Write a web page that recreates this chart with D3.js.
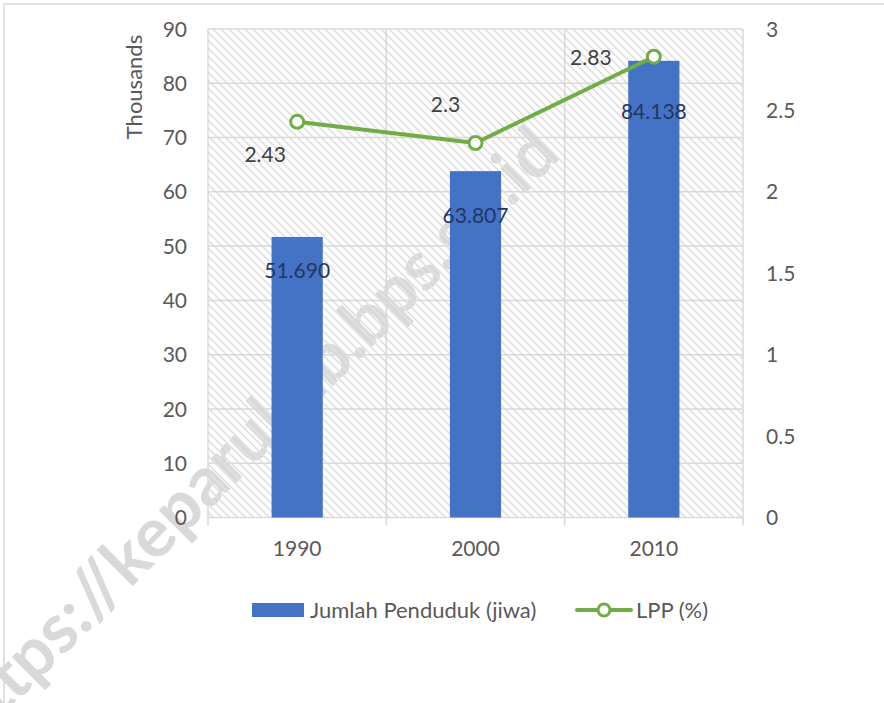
<!DOCTYPE html>
<html>
<head>
<meta charset="utf-8">
<script src="https://cdn.jsdelivr.net/npm/d3@7"></script>
<style>
  html, body { margin: 0; padding: 0; background: #fff; }
  svg { display: block; }
  text { font-family: Lato, "Open Sans", sans-serif; }
</style>
</head>
<body>
<svg id="chart" width="884" height="703"></svg>
<script>
// ---- data ----
const years = ["1990", "2000", "2010"];
const population = [51.690, 63.807, 84.138];          // thousands
const populationLabels = ["51.690", "63.807", "84.138"];
const lpp = [2.43, 2.3, 2.83];                          // percent
const lppLabels = ["2.43", "2.3", "2.83"];
const leftTicks = [0, 10, 20, 30, 40, 50, 60, 70, 80, 90];
const rightTicks = [0, 0.5, 1, 1.5, 2, 2.5, 3];
const seriesNames = ["Jumlah Penduduk (jiwa)", "LPP (%)"];

// ---- layout (not data) ----
const barLabelDy = [34, 44, 51];
const lineLabelOffset = [[-32, 33], [-30, -39], [-63, 1]];

const svg = d3.select("#chart");
const plot = { left: 208, right: 743, top: 29, bottom: 517.5 };
const textColor = "#595959";
const gridColor = "#d9d9d9";
const barColor = "#4472c4";
const lineColor = "#70ad47";

// outer border
svg.append("rect").attr("x", 4).attr("y", 4).attr("width", 900).attr("height", 800)
  .attr("fill", "#fff").attr("stroke", gridColor).attr("stroke-width", 1.5);

// watermark (behind chart)
svg.append("text")
  .attr("transform", "translate(-40,734) rotate(-45)")
  .attr("text-anchor", "start")
  .attr("dominant-baseline", "middle")
  .attr("font-family", "'Liberation Sans', Arial, sans-serif")
  .attr("font-weight", "bold")
  .attr("font-size", 69)
  .attr("fill", "#d9d9d9")
  .text("https://keparukab.bps.go.id");

// hatch pattern
const defs = svg.append("defs");
const pat = defs.append("pattern").attr("id", "hatch")
  .attr("patternUnits", "userSpaceOnUse").attr("width", 8).attr("height", 8);
pat.append("path").attr("d", "M-2,-2 L10,10 M-2,6 L2,10 M6,-2 L10,2")
  .attr("stroke", "#e1e1e1").attr("stroke-width", 1.8).attr("fill", "none");

const x = d3.scaleBand().domain(years).range([plot.left, plot.right]).padding(0);
const yL = d3.scaleLinear().domain([0, 90]).range([plot.bottom, plot.top]);
const yR = d3.scaleLinear().domain([0, 3]).range([plot.bottom, plot.top]);

svg.append("rect").attr("x", plot.left).attr("y", plot.top)
  .attr("width", plot.right - plot.left).attr("height", plot.bottom - plot.top)
  .attr("fill", "url(#hatch)");

// horizontal gridlines
svg.append("g").selectAll("line").data(leftTicks).join("line")
  .attr("x1", plot.left).attr("x2", plot.right)
  .attr("y1", d => yL(d)).attr("y2", d => yL(d))
  .attr("stroke", gridColor).attr("stroke-width", 1.5);

// vertical gridlines at category boundaries
const bounds = years.map(d => x(d)).concat([x(years[years.length - 1]) + x.bandwidth()]);
svg.append("g").selectAll("line").data(bounds).join("line")
  .attr("x1", d => d).attr("x2", d => d)
  .attr("y1", plot.top).attr("y2", plot.bottom + 8)
  .attr("stroke", gridColor).attr("stroke-width", 1.5);

// left axis labels
svg.append("g").selectAll("text").data(leftTicks).join("text")
  .attr("x", 187).attr("y", d => yL(d)).attr("dy", "0.36em")
  .attr("text-anchor", "end").attr("font-size", 21).attr("fill", textColor)
  .text(d => d);

// right axis labels
svg.append("g").selectAll("text").data(rightTicks).join("text")
  .attr("x", 766).attr("y", d => yR(d)).attr("dy", "0.36em")
  .attr("text-anchor", "start").attr("font-size", 21).attr("fill", textColor)
  .text(d => d);

// left axis title
svg.append("text").attr("transform", "translate(142,87) rotate(-90)")
  .attr("text-anchor", "middle").attr("font-size", 22).attr("fill", textColor)
  .text("Thousands");

// x labels
svg.append("g").selectAll("text").data(years).join("text")
  .attr("x", d => x(d) + x.bandwidth() / 2).attr("y", 548).attr("dy", "0.36em")
  .attr("text-anchor", "middle").attr("font-size", 21).attr("fill", textColor)
  .text(d => d);

// bars
const barW = x.bandwidth() * 0.287;
svg.append("g").selectAll("rect").data(population).join("rect")
  .attr("x", (d, i) => x(years[i]) + (x.bandwidth() - barW) / 2)
  .attr("width", barW)
  .attr("y", d => yL(d))
  .attr("height", d => yL(0) - yL(d))
  .attr("fill", barColor);

// bar labels
svg.append("g").selectAll("text").data(population).join("text")
  .attr("x", (d, i) => x(years[i]) + x.bandwidth() / 2)
  .attr("y", (d, i) => yL(d) + barLabelDy[i]).attr("dy", "0.36em")
  .attr("text-anchor", "middle").attr("font-size", 21).attr("fill", "#1f3864")
  .text((d, i) => populationLabels[i]);

// line
const lineGen = d3.line()
  .x((d, i) => x(years[i]) + x.bandwidth() / 2)
  .y(d => yR(d));
svg.append("path").datum(lpp).attr("d", lineGen)
  .attr("fill", "none").attr("stroke", lineColor).attr("stroke-width", 4)
  .attr("stroke-linejoin", "round");
svg.append("g").selectAll("circle").data(lpp).join("circle")
  .attr("cx", (d, i) => x(years[i]) + x.bandwidth() / 2)
  .attr("cy", d => yR(d)).attr("r", 6.5)
  .attr("fill", "#fff").attr("stroke", lineColor).attr("stroke-width", 3);

// line labels
svg.append("g").selectAll("text").data(lpp).join("text")
  .attr("x", (d, i) => x(years[i]) + x.bandwidth() / 2 + lineLabelOffset[i][0])
  .attr("y", (d, i) => yR(d) + lineLabelOffset[i][1]).attr("dy", "0.36em")
  .attr("text-anchor", "middle").attr("font-size", 21).attr("fill", "#404040")
  .text((d, i) => lppLabels[i]);

// legend
const lg = svg.append("g");
lg.append("rect").attr("x", 252).attr("y", 603).attr("width", 52).attr("height", 14)
  .attr("fill", barColor);
lg.append("text").attr("x", 310).attr("y", 610).attr("dy", "0.36em")
  .attr("font-size", 22).attr("fill", textColor).text(seriesNames[0]);
lg.append("line").attr("x1", 577).attr("x2", 631).attr("y1", 610).attr("y2", 610)
  .attr("stroke", lineColor).attr("stroke-width", 4).attr("stroke-linecap", "round");
lg.append("circle").attr("cx", 604).attr("cy", 610).attr("r", 6)
  .attr("fill", "#fff").attr("stroke", lineColor).attr("stroke-width", 3);
lg.append("text").attr("x", 636).attr("y", 610).attr("dy", "0.36em")
  .attr("font-size", 22).attr("fill", textColor).text(seriesNames[1]);
</script>
</body>
</html>
